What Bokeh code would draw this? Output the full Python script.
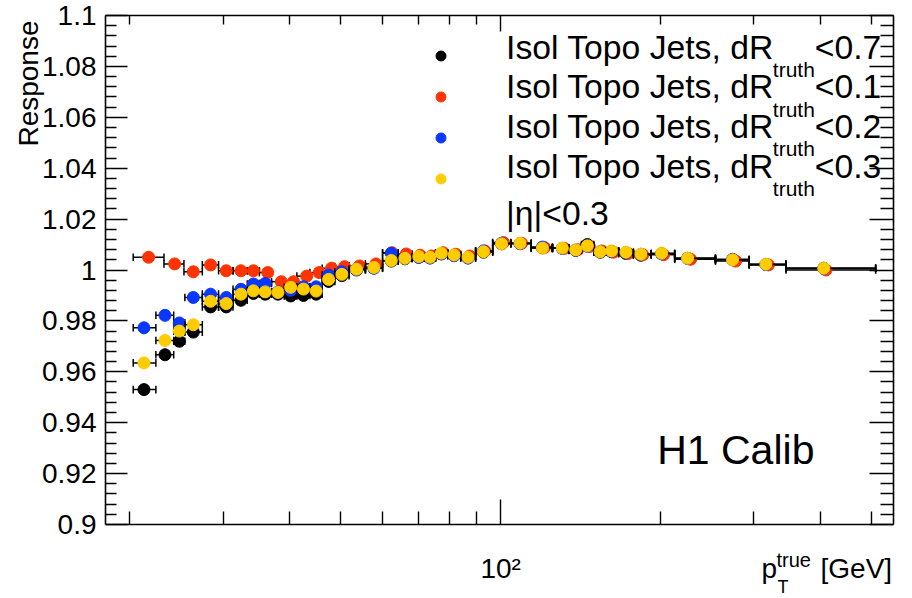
import math
from bokeh.plotting import figure
from bokeh.models import (ColumnDataSource, FixedTicker, LinearAxis, LogAxis, Label,
                          Legend, LegendItem, Range1d, CustomJSTickFormatter)
from bokeh.core.properties import value
from bokeh.embed import file_html
from bokeh.resources import INLINE

# ---------------- data ----------------
pt = [21.27, 23.3, 24.8, 26.35, 28.4, 30.4, 32.4, 34.2, 36.0, 38.05,
      40.2, 42.5, 44.9, 47.4, 50.2, 53.5, 57.7, 62.2, 66.0, 70.1,
      73.6, 77.3, 81.7, 86.8, 92.8, 100.4, 108.8, 119.9, 130.7, 138.5,
      145.7, 154.0, 161.8, 172.2, 183.8, 201.1, 225.1, 273.6, 316.2, 406.4]
pt_edges = [20.3, 22.4, 24.2, 25.4, 27.4, 29.4, 31.3, 33.3, 35.1, 37.0,
            39.1, 41.3, 43.7, 46.1, 48.7, 51.8, 55.6, 59.9, 64.1, 68.1,
            71.8, 75.4, 79.5, 84.1, 89.7, 96.6, 104.5, 114.2, 125.2, 134.5,
            142.0, 149.8, 157.8, 166.9, 177.9, 192.2, 212.8, 254.0, 294.0, 345.0, 509.0]

pt_red = [21.7, 24.3, 26.35, 28.4, 30.4, 32.4, 34.2, 36.4, 38.6, 40.7,
          43.1, 45.5, 48.0, 50.8, 54.2, 58.2, 62.4, 66.4, 70.5, 74.1,
          77.9, 82.3, 87.4, 93.4, 101.2, 109.5, 120.9, 131.8, 139.7, 147.0,
          155.2, 163.2, 173.8, 185.3, 202.8, 228.0, 277.2, 319.6, 410.3]
pt_edges_red = [20.3, 23.2, 25.3, 27.4, 29.4, 31.3, 33.3, 35.1, 37.0,
                39.1, 41.3, 43.7, 46.1, 48.7, 51.8, 55.6, 59.9, 64.1, 68.1,
                71.8, 75.4, 79.5, 84.1, 89.7, 96.6, 104.5, 114.2, 125.2, 134.5,
                142.0, 149.8, 157.8, 166.9, 177.9, 192.2, 212.8, 254.0, 294.0, 345.0, 509.0]

resp_black = [0.9530, 0.9667, 0.9720, 0.9756, 0.9855, 0.9855, 0.9881, 0.9908, 0.9905, 0.9905,
              0.9898, 0.9900, 0.9905, 0.9955, 0.9978, 1.0000, 1.0008, 1.0035, 1.0044, 1.0050,
              1.0047, 1.0063, 1.0057, 1.0047, 1.0070, 1.0103, 1.0104, 1.0087, 1.0085, 1.0077,
              1.0100, 1.0070, 1.0072, 1.0065, 1.0058, 1.0064, 1.0046, 1.0042, 1.0022, 1.0007]
resp_red = [1.0050, 1.0024, 0.9993, 1.0020, 0.9997, 0.9997, 0.9997, 0.9990, 0.9954, 0.9954,
            0.9976, 0.9990, 1.0007, 1.0013, 1.0016, 1.0024, 1.0068, 1.0063, 1.0058, 1.0055,
            1.0068, 1.0062, 1.0055, 1.0075, 1.0108, 1.0105, 1.0088, 1.0085, 1.0080, 1.0092,
            1.0075, 1.0070, 1.0065, 1.0060, 1.0060, 1.0042, 1.0035, 1.0020, 1.0000]
resp_blue = [0.9773, 0.9822, 0.9792, 0.9892, 0.9905, 0.9892, 0.9924, 0.9945, 0.9947, 0.9914,
             0.9920, 0.9934, 0.9934, 0.9980, 0.9993, 1.0003, 1.0007, 1.0066, 1.0046, 1.0050,
             1.0048, 1.0064, 1.0056, 1.0048, 1.0075, 1.0105, 1.0103, 1.0090, 1.0085, 1.0078,
             1.0093, 1.0072, 1.0073, 1.0068, 1.0062, 1.0064, 1.0045, 1.0040, 1.0022, 1.0006]
resp_yellow = [0.9635, 0.9723, 0.9760, 0.9785, 0.9877, 0.9868, 0.9905, 0.9918, 0.9914, 0.9912,
               0.9932, 0.9925, 0.9917, 0.9963, 0.9983, 1.0003, 1.0010, 1.0037, 1.0046, 1.0053,
               1.0050, 1.0066, 1.0059, 1.0050, 1.0072, 1.0103, 1.0105, 1.0086, 1.0086, 1.0079,
               1.0095, 1.0072, 1.0075, 1.0070, 1.0062, 1.0066, 1.0046, 1.0040, 1.0023, 1.0007]

legend_main = "Isol Topo Jets, dR"
legend_sub = "truth"
legend_cuts = ["<0.7", "<0.1", "<0.2", "<0.3"]
eta_text = "|\u03b7|<0.3"
calib_text = "H1 Calib"
y_title = "Response"
x_title_parts = ["p", "true", "T", "[GeV]"]

y_ticks = [0.9, 0.92, 0.94, 0.96, 0.98, 1.0, 1.02, 1.04, 1.06, 1.08, 1.1]
y_tick_labels = ["0.9", "0.92", "0.94", "0.96", "0.98", "1", "1.02", "1.04", "1.06", "1.08", "1.1"]
x_ticks = [100]
x_tick_labels = ["10\u00b2"]
x_minor = [20, 30, 40, 50, 60, 70, 80, 90, 200, 300, 400, 500]

# ---------------- layout ----------------
W, H = 912, 598
FL, FR, FT, FB = 105, 893, 15, 524          # ROOT frame inside the canvas
FW, FH = FR - FL, FB - FT
X0, X1 = 18.0, 550.0
Y0, Y1 = 0.9, 1.1
FONT = "Liberation Sans"
LX0, LX1 = math.log10(X0), math.log10(X1)


def dx(px):
    return 10 ** (LX0 + (px - FL) / FW * (LX1 - LX0))


def dy(py):
    return Y1 - (py - FT) / FH * (Y1 - Y0)


y_minor = [round(0.9 + 0.004 * k, 3) for k in range(51) if k % 5]

# the Bokeh frame covers the whole canvas; the ROOT frame is drawn by bounded fixed axes
p = figure(x_axis_type="log", x_axis_location=None, y_axis_location=None,
           x_range=Range1d(dx(0), dx(W)), y_range=Range1d(dy(H), dy(0)),
           width=W, height=H, frame_width=W, frame_height=H, min_border=0,
           output_backend="svg", toolbar_location=None, title=None)
p.background_fill_color = "white"
p.border_fill_color = "white"
p.outline_line_color = None
for g in p.grid:
    g.visible = False


def style_axis(ax, maj, mnr, show_labels, standoff=5, size=28):
    ax.axis_line_color = "black"
    ax.axis_line_width = 1.6
    ax.major_tick_line_color = "black"
    ax.major_tick_line_width = 1.4
    ax.minor_tick_line_color = "black"
    ax.minor_tick_line_width = 1.4
    ax.major_tick_in = maj
    ax.major_tick_out = 0
    ax.minor_tick_in = mnr
    ax.minor_tick_out = 0
    ax.major_label_text_font = FONT
    ax.major_label_text_color = "black"
    ax.major_label_standoff = standoff
    ax.major_label_text_font_size = f"{size}px" if show_labels else "0px"


bottom = LogAxis(fixed_location=Y0, bounds=(X0, X1),
                 ticker=FixedTicker(ticks=x_ticks, minor_ticks=x_minor),
                 formatter=CustomJSTickFormatter(args=dict(labels=x_tick_labels),
                                                 code="return labels[index];"))
style_axis(bottom, 25, 13, True, standoff=28, size=28)
p.add_layout(bottom, "below")

top = LogAxis(fixed_location=Y1, bounds=(X0, X1),
              ticker=FixedTicker(ticks=x_ticks, minor_ticks=x_minor),
              formatter=CustomJSTickFormatter(code="return '';"))
style_axis(top, 16, 9, False, standoff=0)
p.add_layout(top, "above")

left = LinearAxis(fixed_location=X0, bounds=(Y0, Y1),
                  ticker=FixedTicker(ticks=y_ticks, minor_ticks=y_minor),
                  formatter=CustomJSTickFormatter(args=dict(labels=y_tick_labels),
                                                  code="return labels[index];"))
style_axis(left, 22, 11, True, standoff=9, size=28)
p.add_layout(left, "left")

right = LinearAxis(fixed_location=X1, bounds=(Y0, Y1),
                   ticker=FixedTicker(ticks=y_ticks, minor_ticks=y_minor),
                   formatter=CustomJSTickFormatter(code="return '';"))
style_axis(right, 24, 13, False, standoff=0)
p.add_layout(right, "right")

# ---------------- series ----------------
series = [
    (pt, pt_edges, resp_black, "#000000"),
    (pt_red, pt_edges_red, resp_red, "#ff3300"),
    (pt, pt_edges, resp_blue, "#0a37ff"),
    (pt, pt_edges, resp_yellow, "#ffcc00"),
]
CAP = 0.0015
renderers = []
for xs, edges, ys, col in series:
    src = ColumnDataSource(dict(
        x=xs, y=ys, lo=edges[:-1], hi=edges[1:],
        ylo=[v - CAP for v in ys], yhi=[v + CAP for v in ys]))
    p.segment(x0="lo", y0="y", x1="hi", y1="y", source=src, line_color="black", line_width=1.5)
    p.segment(x0="lo", y0="ylo", x1="lo", y1="yhi", source=src, line_color="black", line_width=1.5)
    p.segment(x0="hi", y0="ylo", x1="hi", y1="yhi", source=src, line_color="black", line_width=1.5)
    r = p.scatter(x="x", y="y", source=src, size=12, marker="circle",
                  fill_color=col, line_color=col, line_width=1)
    renderers.append(r)

# legend markers (library legend; its texts are added as labels below)
legend = Legend(items=[LegendItem(label=value(""), renderers=[r]) for r in renderers],
                location=(440 - 12.5, H - (55.4 - 20.5) - 4 * 41),
                glyph_width=25, glyph_height=41, spacing=0, padding=0, margin=0,
                label_standoff=0, label_width=0, label_height=0,
                label_text_font_size="1px", border_line_color=None,
                background_fill_alpha=0)
p.add_layout(legend)

SHIFT = 0.43  # baseline correction (fraction of font size)


def add_text(px, base_py, text, size, rotated=False, align="left"):
    if rotated:
        x, y, ang = dx(px - SHIFT * size), dy(base_py), math.pi / 2
    else:
        x, y, ang = dx(px), dy(base_py - SHIFT * size), 0.0
    p.add_layout(Label(x=x, y=y, text=text, text_font=FONT,
                       text_font_size=f"{size}px", text_color="black",
                       text_baseline="alphabetic", text_align=align, angle=ang))


LEG = 33.7
for i, cut in enumerate(legend_cuts):
    base = 60.5 + 39.7 * i
    add_text(505.6, base, legend_main, LEG)
    add_text(772.3, base + 17.5, legend_sub, 21)
    add_text(814.3, base, cut, LEG)

add_text(505.6, 227.0, eta_text, LEG)
add_text(656.7, 467.0, calib_text, 41)

# axis titles
add_text(40, 20, y_title, 28, rotated=True, align="right")
add_text(761, 580, x_title_parts[0], 28)
add_text(776, 568, x_title_parts[1], 20)
add_text(777, 594, x_title_parts[2], 18)
add_text(820, 580, x_title_parts[3], 28)

open("out.html", "w").write(file_html(p, INLINE))
